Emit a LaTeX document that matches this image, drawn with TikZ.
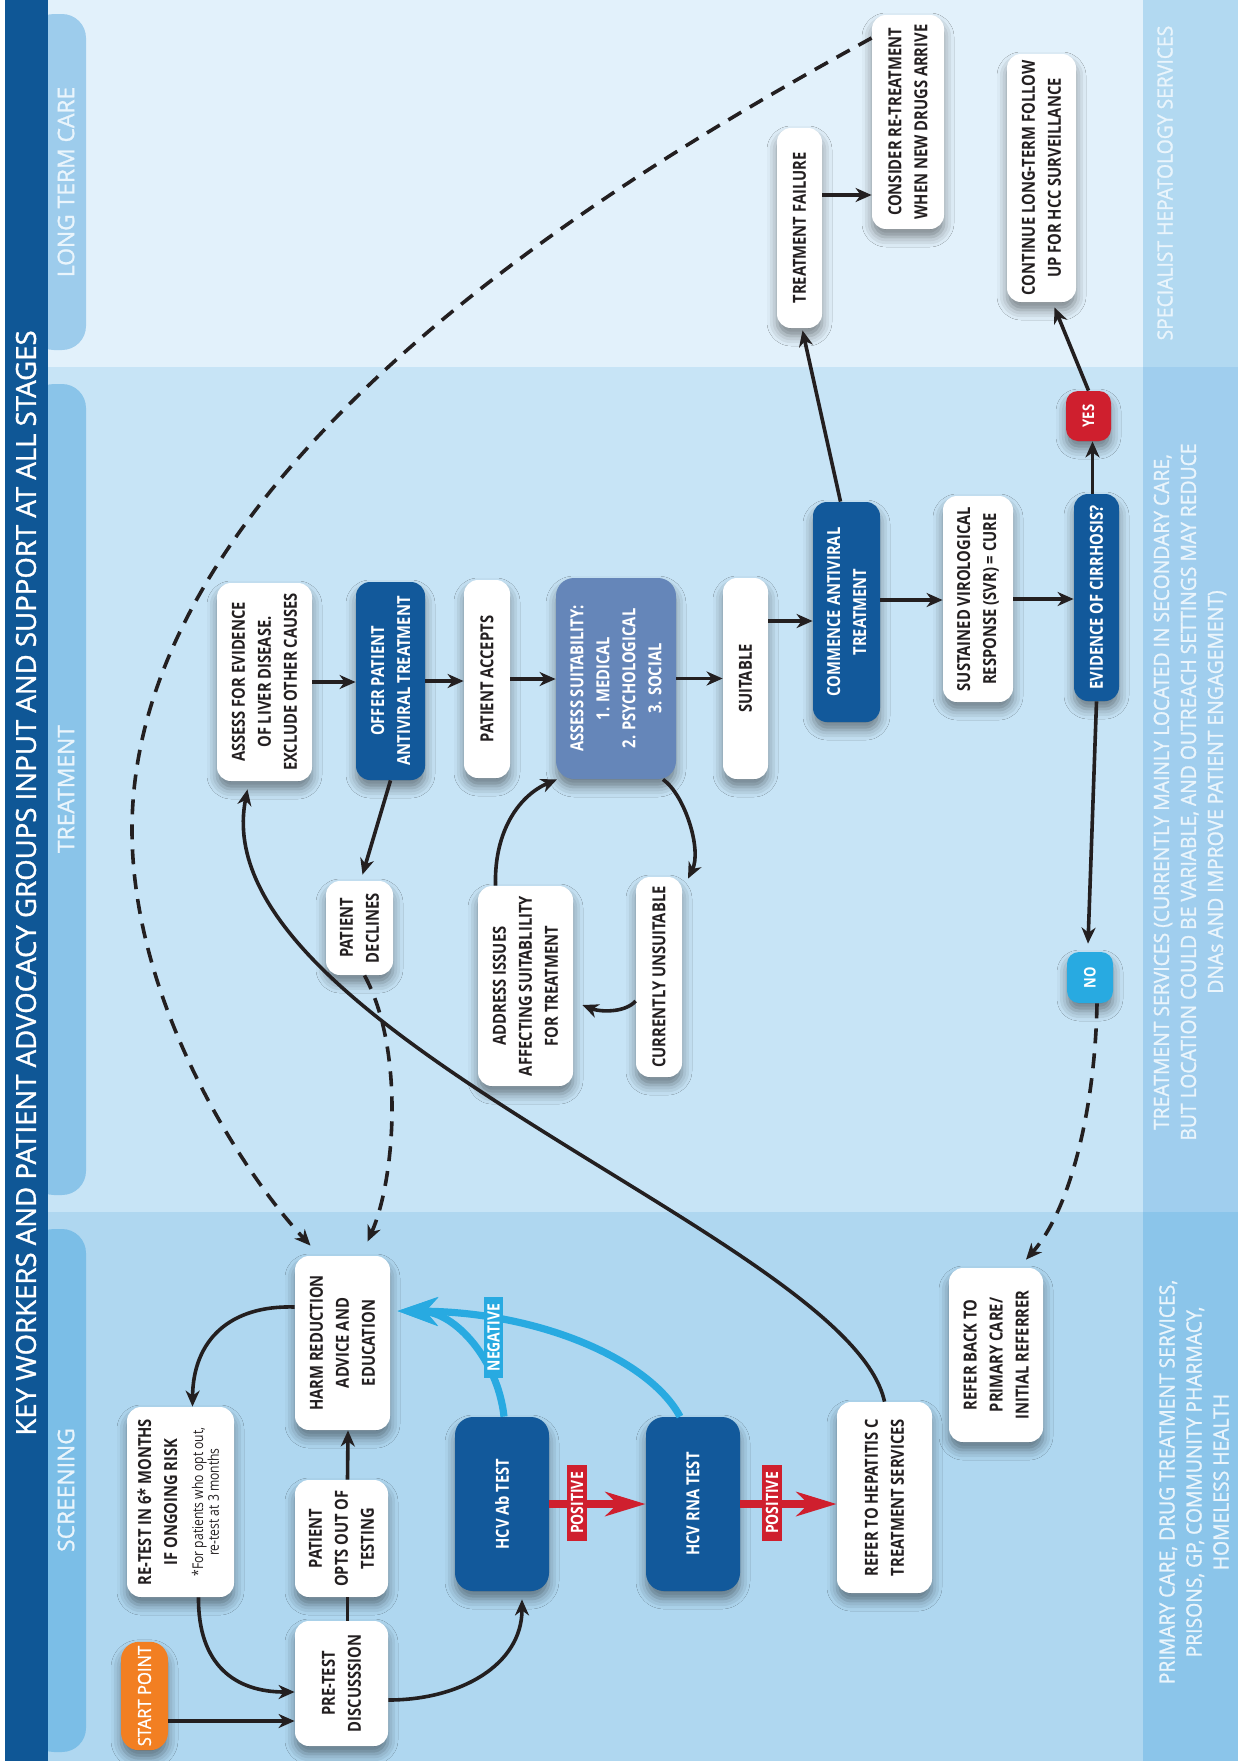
\documentclass[tikz,border=0pt]{standalone}
\usepackage{fontspec}
\setmainfont{Open Sans}
\newfontfamily\cond{Open Sans}[FakeStretch=0.82]
\newfontfamily\semi{Open Sans}[FakeStretch=0.92, FakeBold=1.2]
\newfontfamily\titlef{Open Sans}[FakeBold=1.2]
\usetikzlibrary{arrows.meta,calc,shadows.blur}
\definecolor{dkblue}{HTML}{12599B}
\definecolor{titleblue}{HTML}{0F5796}
\definecolor{suitblue}{HTML}{6586B9}
\definecolor{startorange}{HTML}{F27F22}
\definecolor{posred}{HTML}{CF1F2E}
\definecolor{negblue}{HTML}{28AAE1}
\definecolor{bglong}{HTML}{E2F1FB}
\definecolor{bgtreat}{HTML}{C7E4F6}
\definecolor{bgscreen}{HTML}{AFD7F0}
\definecolor{tablong}{HTML}{9DCCEC}
\definecolor{tabtreat}{HTML}{8AC4E9}
\definecolor{tabscreen}{HTML}{7BBEE7}
\definecolor{bandlong}{HTML}{B2D9F1}
\definecolor{bandtreat}{HTML}{A0CEEE}
\definecolor{bandscreen}{HTML}{8BC5EA}
\definecolor{bandtext}{HTML}{EAF5FC}
\definecolor{ink}{HTML}{231F20}
\tikzset{
  nbox/.style={rotate=90, rounded corners=7pt, align=center, inner sep=2pt,
     font=\cond\bfseries\fontsize{9}{13}\selectfont,
     blur shadow={shadow xshift=0pt, shadow yshift=-4pt, shadow blur radius=5pt, shadow opacity=45}},
  wbox/.style={nbox, fill=white, text=ink},
  dbox/.style={nbox, fill=dkblue, text=white},
  tagbox/.style={rotate=90, inner sep=1pt, font=\cond\bfseries\fontsize{8.5}{10}\selectfont, text=white},
  arr/.style={draw=ink, line width=1.8pt, -{Stealth[length=8pt,width=7pt,inset=2.5pt]}},
  pline/.style={draw=ink, line width=1.8pt},
  dsh/.style={arr, dash pattern=on 7.5pt off 5pt},
  posarr/.style={draw=posred, line width=4pt, -{Stealth[length=20pt,width=12pt,inset=6pt]}},
  negarr/.style={draw=negblue, line width=3.6pt, -{Stealth[length=20pt,width=14pt,inset=6pt]}},
  bandtxt/.style={rotate=90, align=center, text=bandtext, font=\semi\fontsize{10.5}{13.5}\selectfont},
  tabtxt/.style={rotate=90, text=bandtext, font=\titlef\fontsize{11.4}{13}\selectfont},
}
\begin{document}
\begin{tikzpicture}[x=0.5pt,y=-0.5pt]
\useasboundingbox (0,0) rectangle (1241,1761);
% backgrounds
\fill[white] (0,0) rectangle (1241,1761);
\fill[bglong] (5,0) rectangle (1238,367);
\fill[bgtreat] (5,367) rectangle (1238,1212);
\fill[bgscreen] (5,1212) rectangle (1238,1761);
\fill[bandlong] (1143,0) rectangle (1238,367);
\fill[bandtreat] (1143,367) rectangle (1238,1212);
\fill[bandscreen] (1143,1212) rectangle (1238,1761);
\fill[tablong, rounded corners=12pt] (30,14) rectangle (86,350);
\fill[tabtreat, rounded corners=12pt] (30,384) rectangle (86,1195);
\fill[tabscreen, rounded corners=12pt] (30,1229) rectangle (86,1752);
\fill[titleblue] (5,0) rectangle (48,1761);
% header texts
\node[rotate=90, text=white, font=\titlef\fontsize{13.8}{15}\selectfont] (title) at (26,883) {KEY WORKERS AND PATIENT ADVOCACY GROUPS INPUT AND SUPPORT AT ALL STAGES};
\node[tabtxt] (tl) at (66,182) {LONG TERM CARE};
\node[tabtxt] (tt) at (66,789) {TREATMENT};
\node[tabtxt] (ts) at (66,1490) {SCREENING};
\node[bandtxt] (b1) at (1165,183) {SPECIALIST HEPATOLOGY SERVICES};
\node[bandtxt] (b2) at (1190,792) {TREATMENT SERVICES (CURRENTLY MAINLY LOCATED IN SECONDARY CARE,\\BUT LOCATION COULD BE VARIABLE, AND OUTREACH SETTINGS MAY REDUCE\\DNAs AND IMPROVE PATIENT ENGAGEMENT)};
\node[bandtxt] (b3) at (1194,1482) {PRIMARY CARE,\ DRUG TREATMENT SERVICES,\\PRISONS, GP, COMMUNITY PHARMACY,\\HOMELESS HEALTH};
% screening nodes
\node[wbox, fill=startorange, text=white, minimum width=54pt, minimum height=23.5pt, rounded corners=9pt, font=\semi\fontsize{9}{11}\selectfont] (start) at (144.5,1696) {START POINT};
\node[wbox, minimum width=62.5pt, minimum height=46.5pt] (pretest) at (341.5,1683.5) {PRE-TEST\\DISCUSSSION};
\node[wbox, minimum width=58.5pt, minimum height=46.5pt] (optout) at (341.5,1538.5) {PATIENT\\OPTS OUT OF\\TESTING};
\node[wbox, minimum width=95pt, minimum height=53.5pt] (retest) at (180.5,1502) {RE-TEST IN 6* MONTHS\\IF ONGOING RISK\\{\mdseries\fontsize{7.4}{7.8}\selectfont\begin{tabular}[t]{@{}c@{}}*For patients who opt out,\\re-test at 3 months\end{tabular}}};
\node[wbox, minimum width=87pt, minimum height=47.5pt] (harm) at (342.5,1343) {HARM REDUCTION\\ADVICE AND\\EDUCATION};
\node[dbox, minimum width=87pt, minimum height=47pt, rounded corners=9pt] (ab) at (502,1504) {HCV Ab TEST};
\node[dbox, minimum width=87pt, minimum height=47pt, rounded corners=9pt] (rna) at (693,1504) {HCV RNA TEST};
\node[wbox, minimum width=95.5pt, minimum height=47.5pt] (refer) at (884.5,1497.5) {REFER TO HEPATITIS C\\TREATMENT SERVICES};
\node[wbox, minimum width=87pt, minimum height=47pt] (back) at (996,1355) {REFER BACK TO\\PRIMARY CARE/\\INITIAL REFERRER};
% treatment nodes
\node[wbox, minimum width=99pt, minimum height=47.5pt] (liver) at (264.5,682) {ASSESS FOR EVIDENCE\\OF LIVER DISEASE.\\EXCLUDE OTHER CAUSES};
\node[dbox, minimum width=99pt, minimum height=34.5pt] (offer) at (390.5,681) {OFFER PATIENT\\ANTIVIRAL TREATMENT};
\node[wbox, minimum width=99pt, minimum height=23pt] (accepts) at (487,679) {PATIENT ACCEPTS};
\node[nbox, fill=suitblue, text=white, minimum width=100.5pt, minimum height=60pt, rounded corners=9pt] (suit) at (616,678.5) {ASSESS SUITABILITY:\\1. MEDICAL\\2. PSYCHOLOGICAL\\3. SOCIAL};
\node[wbox, minimum width=100.5pt, minimum height=22.5pt] (suitable) at (745.5,678.5) {SUITABLE};
\node[wbox, minimum width=100pt, minimum height=23pt] (unsuit) at (659,977) {CURRENTLY UNSUITABLE};
\node[wbox, minimum width=100pt, minimum height=47.5pt] (address) at (525.5,986) {ADDRESS ISSUES\\AFFECTING SUITABLILITY\\FOR TREATMENT};
\node[wbox, minimum width=47pt, minimum height=33.5pt] (declines) at (359.5,928) {PATIENT\\DECLINES};
\node[dbox, minimum width=110pt, minimum height=33.5pt] (commence) at (846.5,612) {COMMENCE ANTIVIRAL\\TREATMENT};
\node[wbox, minimum width=103pt, minimum height=35pt] (svr) at (978,599) {SUSTAINED VIROLOGICAL\\RESPONSE (SVR) = CURE};
\node[dbox, minimum width=103.5pt, minimum height=22.5pt] (cirr) at (1096.5,597.5) {EVIDENCE OF CIRRHOSIS?};
\node[nbox, fill=posred, text=white, minimum width=25pt, minimum height=22.5pt, rounded corners=6pt, font=\cond\bfseries\fontsize{8}{9}\selectfont] (yes) at (1088.5,416) {YES};
\node[nbox, fill=negblue, text=white, minimum width=25.5pt, minimum height=23pt, rounded corners=6pt, font=\cond\bfseries\fontsize{8}{9}\selectfont] (no) at (1090,977.5) {NO};
% long term nodes
\node[wbox, minimum width=100pt, minimum height=22.5pt] (failure) at (799.5,228) {TREATMENT FAILURE};
\node[wbox, minimum width=107pt, minimum height=36pt] (consider) at (908,122) {CONSIDER RE-TREATMENT\\WHEN NEW DRUGS ARRIVE};
\node[wbox, minimum width=124pt, minimum height=34.5pt] (continue) at (1041.5,178) {CONTINUE LONG-TERM FOLLOW\\UP FOR HCC SURVEILLANCE};
% helper coordinates
\coordinate (negtip) at ($(harm.south)+(7,-32)$);
\coordinate (s1) at ($(suitable.south)+(0,-57.5)$);
\coordinate (c1) at ($(commence.south)+(0,-12)$);
\coordinate (f1) at ($(failure.south)+(0,-33)$);
% screening connectors
\draw[arr] ($(start.south)+(0,25)$) -- ($(pretest.north)+(0,37.5)$);
\draw[pline] ($(pretest.east)+(6,0)$) -- ($(optout.west)+(6,0)$);
\draw[arr] ($(optout.east)+(6,0)$) -- ($(harm.west)+(5.5,0)$);
\draw[arr] ($(harm.north)+(0,-36)$) .. controls (230,1305) and (193,1340) .. ($(retest.east)+(12,0)$);
\draw[arr] ($(retest.west)+(18,0)$) .. controls (198,1665) and (235,1692) .. ($(pretest.north)+(0,8.5)$);
\draw[arr] ($(pretest.south)+(0,16.5)$) .. controls (460,1700) and (522,1665) .. ($(ab.west)+(20,8)$);
\draw[posarr] (ab.south) -- (rna.north);
\node[tagbox, fill=posred, minimum width=38pt, minimum height=10pt] (pos1) at (577,1503) {POSITIVE};
\draw[posarr] (rna.south) -- (rna.south -| refer.north);
\node[tagbox, fill=posred, minimum width=38pt, minimum height=10pt] (pos2) at (772,1503) {POSITIVE};
\draw[negarr] ($(rna.east)+(-13,0)$) .. controls (650,1360) and (540,1312) .. (negtip);
\draw[negarr] ($(ab.east)+(2,0)$) .. controls (498,1360) and (455,1312) .. (negtip);
\node[tagbox, fill=negblue, minimum width=40.5pt, minimum height=9.5pt] (neg) at (493.5,1337.5) {NEGATIVE};
% long curves
\draw[arr] (refer.east) .. controls (850,1240) and (200,1030) .. ($(liver.west)+(-17,8)$);
\draw[dsh] ($(consider.north)+(0,-84)$) .. controls (672,148) and (132,450) .. (132,830) .. controls (132,1000) and (240,1170) .. ($(harm.east)+(-32,-10)$);
\draw[dsh] ($(declines.west)+(5,0)$) .. controls (405,1050) and (395,1180) .. ($(harm.east)+(25,-14)$);
% treatment connectors
\draw[arr] (liver.south) -- (liver.south -| offer.north);
\draw[arr] (offer.south) -- (offer.south -| accepts.north);
\draw[arr] (accepts.south) -- (accepts.south -| suit.north);
\draw[arr] (suit.south) -- (suit.south -| suitable.north);
\draw[arr] (s1) -- (s1 -| commence.north);
\draw[arr] (c1) -- (c1 -| svr.north);
\draw[arr] (svr.south) -- (svr.south -| cirr.north);
\draw[arr] (offer.west) -- ($(declines.east)+(3,-6)$);
\draw[arr] ($(suit.west)+(47,0)$) .. controls (685,795) and (702,850) .. ($(unsuit.east)+(29,2)$);
\draw[arr] ($(unsuit.north)+(0,24)$) .. controls (625,1013) and (600,1012) .. ($(address.south)+(9,19)$);
\draw[arr] ($(address.east)+(-30,0)$) .. controls (494,830) and (520,795) .. ($(suit.west)+(-59,0)$);
\draw[arr] ($(cirr.east)+(-4,0)$) -- ($(yes.west)+(4,0)$);
\draw[arr] (yes.east) -- ($(continue.west)+(13,5)$);
\draw[arr] (cirr.west) -- ($(no.east)+(-2,-8)$);
\draw[dsh] ($(no.west)+(7,0)$) .. controls (1095,1110) and (1070,1210) .. ($(back.east)+(30,-8)$);
\draw[arr] ($(commence.east)+(-6,0)$) -- ($(failure.west)+(3,2)$);
\draw[arr] (f1) -- (f1 -| consider.north);
\end{tikzpicture}
\end{document}
